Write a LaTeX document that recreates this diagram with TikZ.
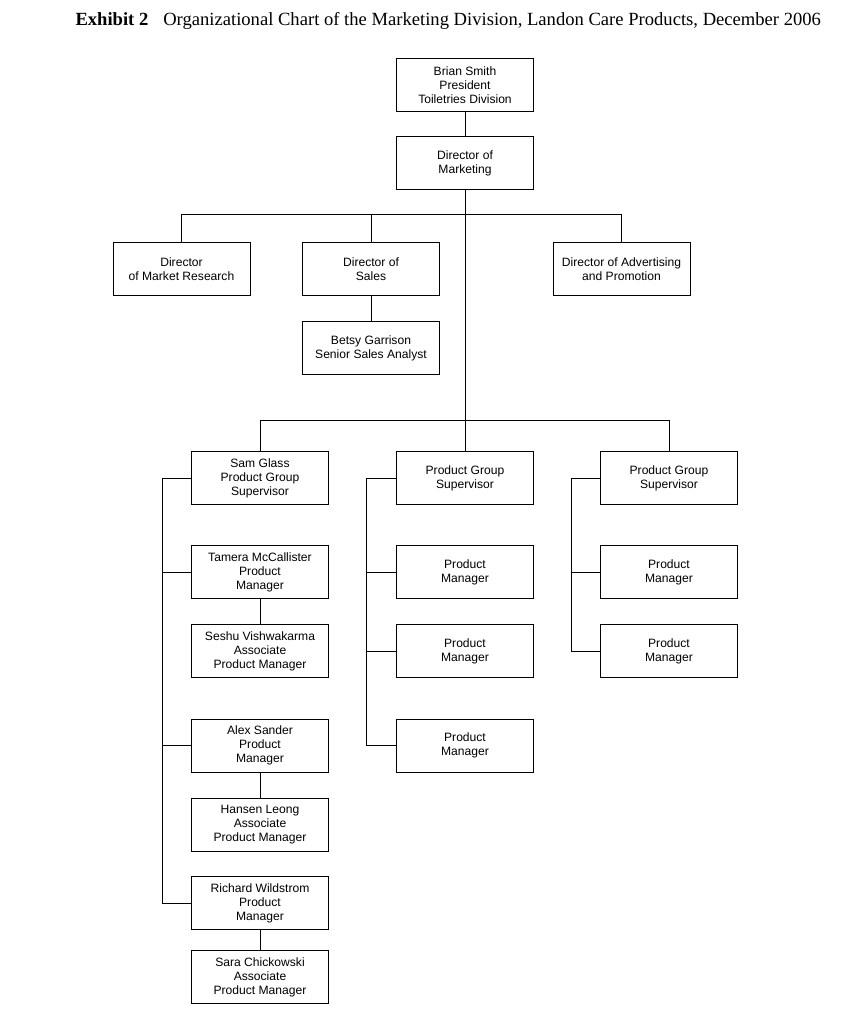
\documentclass[tikz,border=0pt]{standalone}
\usepackage{fontspec}
\setmainfont{Liberation Serif}
\newfontfamily\chartfont{Liberation Sans}
\usetikzlibrary{positioning,calc}

\begin{document}
\begin{tikzpicture}[x=1pt,y=-1pt,
    line width=1pt,
    post/.style={draw,line width=1pt,minimum width=137pt,minimum height=53pt,inner sep=0pt,
      align=center,font=\chartfont\fontsize{12.1}{13.9}\selectfont},
    title/.style={anchor=base west,inner sep=0pt,font=\fontsize{18.6}{21}\selectfont}
  ]
  \useasboundingbox (0,0) rectangle (848,1024);

  % the title
  \node[title] (head) at (75,26) {\textbf{Exhibit 2}\hspace{0.8em}Organizational Chart of the Marketing Division, Landon Care Products, December 2006};

  % the top of the division
  \node[post] (pres) at (465,85) {Brian Smith\\President\\Toiletries Division};
  \node[post] (dirm) at (465,163.5) {Director of\\Marketing};

  % the directors
  \node[post] (dmr) at (181.5,269) {Director\\of Market Research};
  \node[post] (dsal) at (371,269) {Director of\\Sales};
  \node[post] (dadv) at (621.5,269) {Director of Advertising\\and Promotion};
  \node[post] (betsy) at (371,348) {Betsy Garrison\\Senior Sales Analyst};

  % the product group supervisors
  \node[post] (pgs1) at (260,478) {Sam Glass\\Product Group\\Supervisor};
  \node[post] (pgs2) at (465,478) {Product Group\\Supervisor};
  \node[post] (pgs3) at (669,478) {Product Group\\Supervisor};

  % the group of Sam Glass
  \node[post] (tam) at (260,572) {Tamera McCallister\\Product\\Manager};
  \node[post] (seshu) at (260,651) {Seshu Vishwakarma\\Associate\\Product Manager};
  \node[post] (alex) at (260,745.5) {Alex Sander\\Product\\Manager};
  \node[post] (hansen) at (260,824.5) {Hansen Leong\\Associate\\Product Manager};
  \node[post] (rich) at (260,903) {Richard Wildstrom\\Product\\Manager};
  \node[post] (sara) at (260,977) {Sara Chickowski\\Associate\\Product Manager};

  % the other two groups
  \foreach \i/\ycoord in {1/572,2/651,3/745.5}
    \node[post] (pm2\i) at (465,\ycoord) {Product\\Manager};
  \foreach \i/\ycoord in {1/572,2/651}
    \node[post] (pm3\i) at (669,\ycoord) {Product\\Manager};

  % the rails
  \coordinate (rail1) at (162,0);
  \coordinate (rail2) at (366,0);
  \coordinate (rail3) at (571,0);

  % the edges
  \draw (pres) -- (dirm);
  \draw (dirm) -- (pgs2);
  \draw (dmr.north) -- ++(0,-27) -| (dadv.north);
  \draw (dsal.north) -- ++(0,-27);
  \draw (dsal) -- (betsy);
  \draw (pgs1.north) -- ++(0,-31) -| (pgs3.north);

  \draw (pgs1.west) -| (rail1 |- rich.west) -- (rich.west);
  \foreach \n in {tam,alex}
    \draw (\n.west) -- (\n.west -| rail1);
  \draw (tam) -- (seshu);
  \draw (alex) -- (hansen);
  \draw (rich) -- (sara);

  \draw (pgs2.west) -| (rail2 |- pm23.west) -- (pm23.west);
  \foreach \i in {1,2}
    \draw (pm2\i.west) -- (pm2\i.west -| rail2);

  \draw (pgs3.west) -| (rail3 |- pm32.west) -- (pm32.west);
  \draw (pm31.west) -- (pm31.west -| rail3);
\end{tikzpicture}
\end{document}
